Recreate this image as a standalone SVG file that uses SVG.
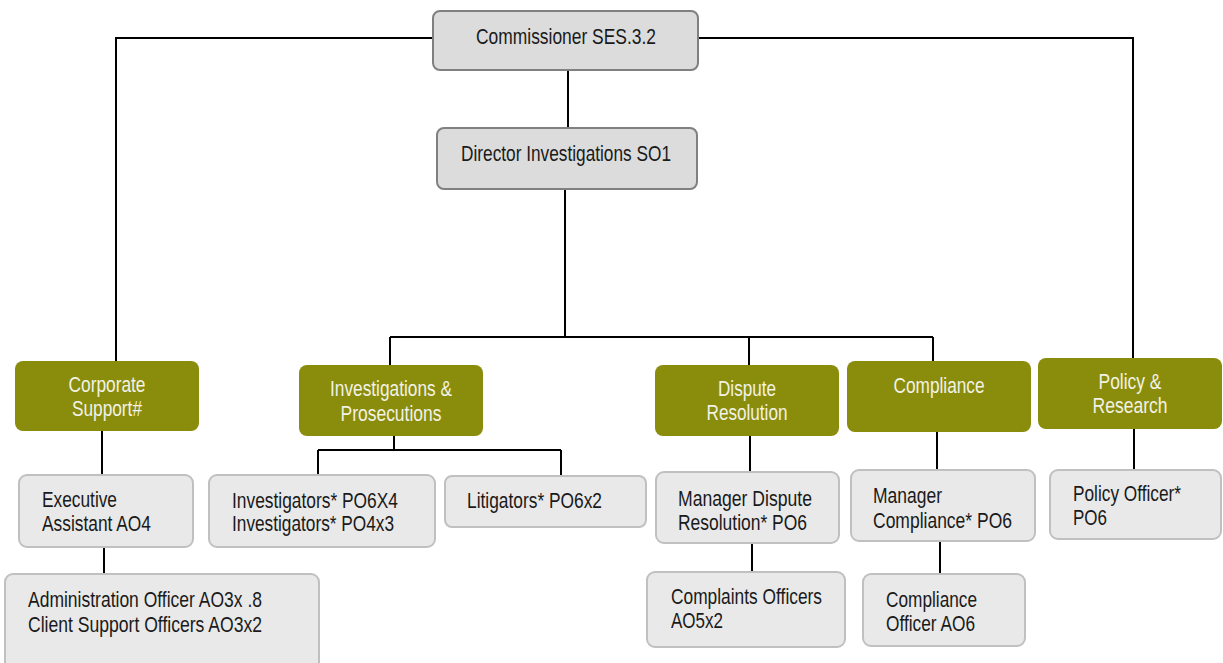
<svg xmlns="http://www.w3.org/2000/svg" width="1223" height="663" viewBox="0 0 1223 663">
<style>
.top{fill:#dcdcdc;stroke:#808080;stroke-width:2}
.unit{fill:#8a8c0b;stroke:none}
.pos{fill:#e9e9e9;stroke:#c0c0c0;stroke-width:2}
text{font-family:"Liberation Sans",Arial,sans-serif;font-size:22px;fill:#1a1a1a}
.w{fill:#f2f2e6;text-anchor:middle}
.c{text-anchor:middle}
.ln{fill:none;stroke:#000;stroke-width:2}
</style>
<rect width="1223" height="663" fill="#fff"/>
<g id="connectors" class="ln">
<path d="M433 38H116V361"/>
<path d="M698 38H1133V358"/>
<path d="M568 70V128"/>
<path d="M565 189V337M390 337H933M390 337V365M749 337V365M933 337V361"/>
<path d="M102 431V475M104 547V574"/>
<path d="M394 436V450M318 450H561M318 450V475M561 450V476"/>
<path d="M750 436V472M752 543V572"/>
<path d="M937 432V470M940 541V574"/>
<path d="M1134 429V470"/>
</g>
<g id="commissioner"><rect class="top" x="433" y="11" width="265" height="59" rx="7"/><text class="c" x="566" y="44" textLength="180" lengthAdjust="spacingAndGlyphs">Commissioner SES.3.2</text></g>
<g id="director"><rect class="top" x="437" y="128" width="260" height="61" rx="7"/><text class="c" x="566" y="161" textLength="210" lengthAdjust="spacingAndGlyphs">Director Investigations SO1</text></g>
<g id="corporate"><rect class="unit" x="15" y="361" width="184" height="70" rx="8"/><text class="w" x="107" y="392" textLength="77" lengthAdjust="spacingAndGlyphs">Corporate</text><text class="w" x="107" y="416" textLength="70" lengthAdjust="spacingAndGlyphs">Support#</text></g>
<g id="investigations"><rect class="unit" x="299" y="365" width="184" height="71" rx="8"/><text class="w" x="391" y="396" textLength="122" lengthAdjust="spacingAndGlyphs">Investigations &amp;</text><text class="w" x="391" y="421" textLength="101" lengthAdjust="spacingAndGlyphs">Prosecutions</text></g>
<g id="dispute"><rect class="unit" x="655" y="365" width="184" height="71" rx="8"/><text class="w" x="747" y="396" textLength="58" lengthAdjust="spacingAndGlyphs">Dispute</text><text class="w" x="747" y="420" textLength="81" lengthAdjust="spacingAndGlyphs">Resolution</text></g>
<g id="compliance"><rect class="unit" x="847" y="361" width="184" height="71" rx="8"/><text class="w" x="939" y="393" textLength="91" lengthAdjust="spacingAndGlyphs">Compliance</text></g>
<g id="policy"><rect class="unit" x="1038" y="358" width="184" height="71" rx="8"/><text class="w" x="1130" y="389" textLength="63" lengthAdjust="spacingAndGlyphs">Policy &amp;</text><text class="w" x="1130" y="413" textLength="75" lengthAdjust="spacingAndGlyphs">Research</text></g>
<g id="exec"><rect class="pos" x="19" y="475" width="174" height="72" rx="8"/><text x="42" y="507" textLength="75" lengthAdjust="spacingAndGlyphs">Executive</text><text x="42" y="531" textLength="109" lengthAdjust="spacingAndGlyphs">Assistant AO4</text></g>
<g id="admin"><rect class="pos" x="5" y="574" width="314" height="100" rx="8"/><text x="28" y="607" textLength="234" lengthAdjust="spacingAndGlyphs">Administration Officer AO3x .8</text><text x="28" y="632" textLength="234" lengthAdjust="spacingAndGlyphs">Client Support Officers AO3x2</text></g>
<g id="investigators"><rect class="pos" x="209" y="475" width="226" height="72" rx="8"/><text x="232" y="508" textLength="166" lengthAdjust="spacingAndGlyphs">Investigators* PO6X4</text><text x="232" y="531" textLength="162" lengthAdjust="spacingAndGlyphs">Investigators* PO4x3</text></g>
<g id="litigators"><rect class="pos" x="445" y="476" width="201" height="51" rx="7"/><text x="467" y="508" textLength="135" lengthAdjust="spacingAndGlyphs">Litigators* PO6x2</text></g>
<g id="managerDispute"><rect class="pos" x="656" y="472" width="183" height="71" rx="8"/><text x="678" y="506" textLength="134" lengthAdjust="spacingAndGlyphs">Manager Dispute</text><text x="678" y="530" textLength="129" lengthAdjust="spacingAndGlyphs">Resolution* PO6</text></g>
<g id="complaints"><rect class="pos" x="647" y="572" width="198" height="75" rx="8"/><text x="671" y="604" textLength="151" lengthAdjust="spacingAndGlyphs">Complaints Officers</text><text x="671" y="628" textLength="52" lengthAdjust="spacingAndGlyphs">AO5x2</text></g>
<g id="managerCompliance"><rect class="pos" x="851" y="470" width="184" height="71" rx="8"/><text x="873" y="503" textLength="69" lengthAdjust="spacingAndGlyphs">Manager</text><text x="873" y="528" textLength="139" lengthAdjust="spacingAndGlyphs">Compliance* PO6</text></g>
<g id="complianceOfficer"><rect class="pos" x="863" y="574" width="162" height="72" rx="8"/><text x="886" y="607" textLength="91" lengthAdjust="spacingAndGlyphs">Compliance</text><text x="886" y="631" textLength="89" lengthAdjust="spacingAndGlyphs">Officer AO6</text></g>
<g id="policyOfficer"><rect class="pos" x="1050" y="470" width="171" height="69" rx="8"/><text x="1073" y="501" textLength="108" lengthAdjust="spacingAndGlyphs">Policy Officer*</text><text x="1073" y="525" textLength="34" lengthAdjust="spacingAndGlyphs">PO6</text></g>
</svg>
